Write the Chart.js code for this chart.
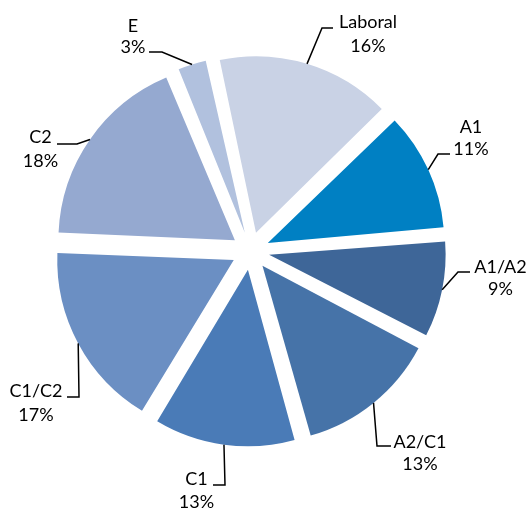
<!DOCTYPE html>
<html><head><meta charset="utf-8">
<script src="https://cdn.jsdelivr.net/npm/chart.js@4"></script>
<style>html,body{margin:0;padding:0;background:#fff;}canvas{display:block;}</style>
</head><body>
<canvas id="c" width="530" height="510"></canvas>
<script>
// ---- data ----
const categories = ['Laboral', 'A1', 'A1/A2', 'A2/C1', 'C1', 'C1/C2', 'C2', 'E'];
const shares = [16, 11, 9, 13, 13, 17, 18, 3];

// ---- styles / layout ----
const sliceColors = ['#c9d2e5', '#0080c3', '#3e6698', '#4673a8', '#4a7bb7', '#6b8fc3', '#95a9d0', '#b1c1de'];
const PIE_RADIUS = 176.5;
const EXPLODE = 19;
const FONT = '18px Lato, "Open Sans", sans-serif';
// text centre x, baselines of both lines, elbow and end of leader line
const labelLayout = [
  {tx: 368, ty1: 28,    ty2: 52,    elbow: [322, 28],  end: [333, 28]},
  {tx: 471, ty1: 133,   ty2: 155,   elbow: [438, 154], end: [450, 154]},
  {tx: 500.5, ty1: 273, ty2: 295,   elbow: [458, 272], end: [470, 272]},
  {tx: 420, ty1: 447.5, ty2: 470,   elbow: [377, 446], end: [391, 446]},
  {tx: 196.5, ty1: 485, ty2: 508,   elbow: [225, 485], end: [213, 485]},
  {tx: 36, ty1: 396.7,  ty2: 420.5, elbow: [79, 397],  end: [67, 397]},
  {tx: 40.5, ty1: 143.3, ty2: 166.5, elbow: [77, 144], end: [57, 144]},
  {tx: 133, ty1: 31.7,  ty2: 53.3,  elbow: [162, 52],  end: [149, 52]}
];

// keep every exploded slice at the same radius
const radiusFix = {
  id: 'radiusFix',
  afterDatasetUpdate(chart, args) {
    const off = EXPLODE;
    args.meta.data.forEach(arc => {
      const fix = 1 - Math.sin(Math.min(Math.PI, arc.circumference || 0));
      arc.outerRadius = PIE_RADIUS - off * fix;
    });
  }
};

const outerLabels = {
  id: 'outerLabels',
  afterDraw(chart) {
    const ctx = chart.ctx;
    const meta = chart.getDatasetMeta(0);
    ctx.save();
    ctx.lineWidth = 1.5;
    ctx.strokeStyle = '#000';
    ctx.fillStyle = '#000';
    ctx.font = FONT;
    ctx.textAlign = 'center';
    ctx.textBaseline = 'alphabetic';
    meta.data.forEach((arc, i) => {
      const p = arc.getProps(['x', 'y', 'startAngle', 'endAngle']);
      const mid = (p.startAngle + p.endAngle) / 2;
      const r = EXPLODE + PIE_RADIUS;
      const ax = p.x + Math.cos(mid) * r;
      const ay = p.y + Math.sin(mid) * r;
      const L = labelLayout[i];
      ctx.beginPath();
      ctx.moveTo(ax, ay);
      ctx.lineTo(L.elbow[0], L.elbow[1]);
      ctx.lineTo(L.end[0], L.end[1]);
      ctx.stroke();
      ctx.fillText(categories[i], L.tx, L.ty1);
      ctx.fillText(shares[i] + '%', L.tx, L.ty2);
    });
    ctx.restore();
  }
};

new Chart(document.getElementById('c'), {
  type: 'pie',
  data: {
    labels: categories,
    datasets: [{
      data: shares,
      backgroundColor: sliceColors,
      borderWidth: 0,
      offset: EXPLODE * 4
    }]
  },
  options: {
    responsive: false,
    animation: false,
    events: [],
    rotation: -12,
    radius: PIE_RADIUS,
    layout: {padding: {left: 0, right: 29, top: 0, bottom: 8}},
    plugins: {legend: {display: false}, tooltip: {enabled: false}}
  },
  plugins: [radiusFix, outerLabels]
});
</script>
</body></html>
